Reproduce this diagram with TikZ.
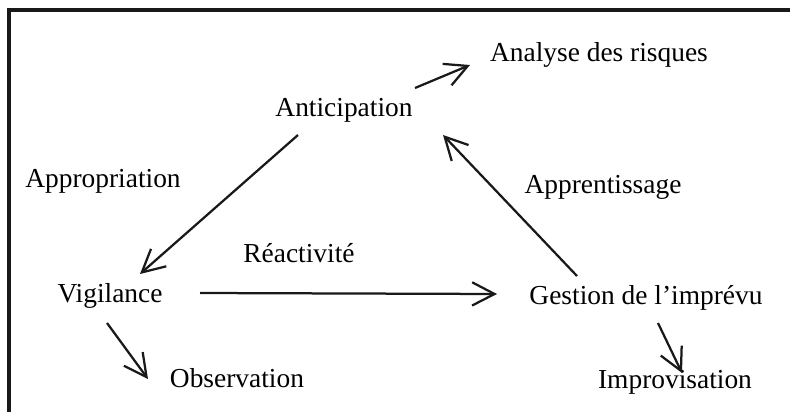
\documentclass[tikz,border=0pt]{standalone}
\usepackage{fontspec}
\setmainfont{Liberation Serif}
\usetikzlibrary{arrows.meta}
\begin{document}
\begin{tikzpicture}[
        x=0.025cm, y=-0.025cm,
        >={Straight Barb[length=0.56cm,width=0.58cm]},
        term/.style={
            anchor=base,
            inner sep=0pt,
            font=\fontsize{19.5}{23}\selectfont
        },
        arrow/.style={
            ->,
            line width=1.6pt,
            draw=black!90
        }
    ]

    \useasboundingbox (0,0) rectangle (790,412);
    \draw[line width=2.2pt, draw=black!90] (9,412) -- (9,10) -- (790,10);

    \node[term] (antic)   at (344,117) {Anticipation};
    \node[term] (risques) at (599,62)  {Analyse des risques};
    \node[term] (approp)  at (103,188) {Appropriation};
    \node[term] (apprent) at (603,194) {Apprentissage};
    \node[term] (reac)    at (299,263) {Réactivité};
    \node[term] (vigil)   at (110,303) {Vigilance};
    \node[term] (gestion) at (646,305) {Gestion de l’imprévu};
    \node[term] (observ)  at (237,388) {Observation};
    \node[term] (improv)  at (675,389) {Improvisation};

    \draw[arrow] ([shift={(-46,18)}]antic.base) -- ([shift={(30,-29)}]vigil.base);
    \draw[arrow] ([shift={(71,-29)}]antic.base) -- ([shift={(-129,3)}]risques.base);
    \draw[arrow] ([shift={(-69,-29)}]gestion.base) -- ([shift={(99,18)}]antic.base);
    \draw[arrow] ([shift={(90,-10)}]vigil.base) -- ([shift={(-149,-11)}]gestion.base);
    \draw[arrow] ([shift={(-3,20)}]vigil.base) -- ([shift={(-89,-9)}]observ.base);
    \draw[arrow] ([shift={(12,18)}]gestion.base) -- ([shift={(7,-16)}]improv.base);

\end{tikzpicture}
\end{document}
